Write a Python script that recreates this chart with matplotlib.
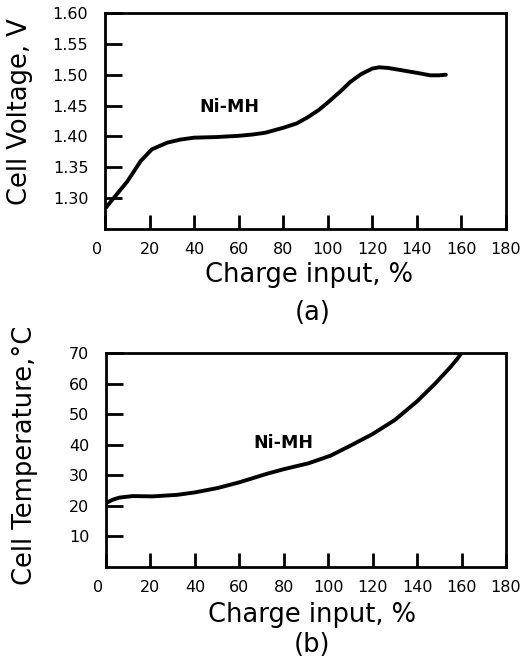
import matplotlib
matplotlib.use("Agg")
import matplotlib.pyplot as plt
from matplotlib.transforms import ScaledTranslation

# ---- data ----
charge_a = [0.5, 5, 10, 16, 21, 28, 34, 40, 50, 60, 66, 72, 80, 86, 91, 96, 101, 106, 110, 115, 120, 123, 127, 132, 140, 146, 150, 153]
voltage_a = [1.285, 1.305, 1.327, 1.360, 1.379, 1.390, 1.395, 1.398, 1.399, 1.401, 1.403, 1.406, 1.414, 1.421, 1.431, 1.443, 1.458, 1.474, 1.488, 1.501, 1.510, 1.512, 1.511, 1.508, 1.503, 1.499, 1.499, 1.500]

charge_b = [0.5, 3, 6, 12, 21, 32, 40, 50, 60, 72, 80, 91, 101, 110, 120, 130, 140, 148, 155, 158, 160]
temp_b = [21.1, 22.0, 22.7, 23.2, 23.1, 23.6, 24.4, 25.8, 27.7, 30.4, 32.0, 33.9, 36.4, 39.7, 43.5, 48.1, 54.2, 59.9, 65.4, 68.0, 70.0]

xticks = [0, 20, 40, 60, 80, 100, 120, 140, 160, 180]
yticks_a = [1.30, 1.35, 1.40, 1.45, 1.50, 1.55, 1.60]
yticks_b = [10, 20, 30, 40, 50, 60, 70]

W, H = 526, 659
plt.rcParams['font.family'] = ['DejaVu Sans']
fig = plt.figure(figsize=(W / 100, H / 100), dpi=100)


def px_axes(left, top, right, bottom):
    return fig.add_axes([left / W, 1 - bottom / H, (right - left) / W, (bottom - top) / H])


def style(ax):
    for s in ax.spines.values():
        s.set_linewidth(2.0)
        s.set_color('black')
    ax.tick_params(axis='x', direction='in', length=10, width=2, pad=9, labelsize=11.5)
    ax.tick_params(axis='y', direction='in', length=12, width=2, pad=12, labelsize=11.5)
    ax.set_xlim(0, 180)
    ax.set_xticks(xticks)
    ax.set_xticklabels([str(t) for t in xticks])
    lbl0 = ax.get_xticklabels()[0]
    lbl0.set_transform(lbl0.get_transform() + ScaledTranslation(-8 / 100, 0, fig.dpi_scale_trans))


# ---- panel (a) ----
ax1 = px_axes(105, 13, 506, 229)
ax1.plot(charge_a, voltage_a, color='black', lw=2.8, solid_capstyle='round')
ax1.set_ylim(1.25, 1.60)
ax1.set_yticks(yticks_a)
ax1.set_yticklabels([f"{v:.2f}" for v in yticks_a])
style(ax1)
ax1.text(56, 1.448, 'Ni-MH', fontsize=12.5, fontweight='bold', ha='center', va='center')

fig.text(20 / W, 1 - 112 / H, 'Cell Voltage, V', rotation=90, ha='center', va='center', fontsize=18.5)
fig.text(309 / W, 1 - 275 / H, 'Charge input, %', ha='center', va='center', fontsize=18.5)
fig.text(313 / W, 1 - 313 / H, '(a)', ha='center', va='center', fontsize=18.5)

# ---- panel (b) ----
ax2 = px_axes(106, 353, 506, 567)
ax2.plot(charge_b, temp_b, color='black', lw=2.8, solid_capstyle='round')
ax2.set_ylim(0, 70)
ax2.set_yticks(yticks_b)
ax2.set_yticklabels([str(v) for v in yticks_b])
style(ax2)
ax2.text(80, 40.5, 'Ni-MH', fontsize=12.5, fontweight='bold', ha='center', va='center')

fig.text(25 / W, 1 - 455 / H, 'Cell Temperature,°C', rotation=90, ha='center', va='center', fontsize=18.5)
fig.text(312 / W, 1 - 615 / H, 'Charge input, %', ha='center', va='center', fontsize=18.5)
fig.text(312 / W, 1 - 645 / H, '(b)', ha='center', va='center', fontsize=18.5)

fig.savefig('out.png', dpi=100)
